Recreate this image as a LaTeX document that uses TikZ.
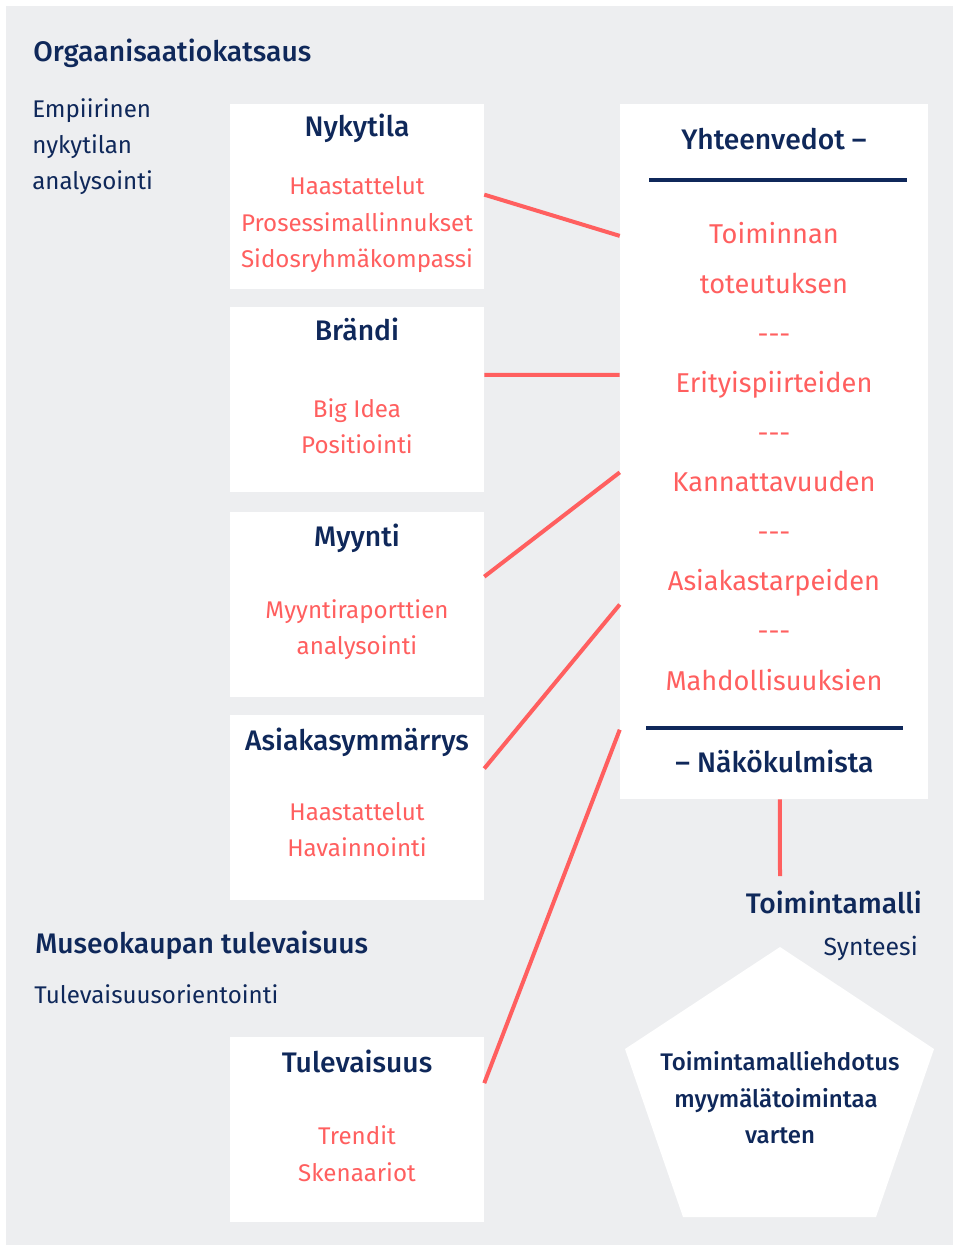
\documentclass[tikz,border=0pt]{standalone}
\usepackage{fontspec}
\setmainfont{Fira Sans}
\IfFontExistsTF{FiraSans-Medium}
  {\newfontfamily\headfont{FiraSans-Medium}}
  {\IfFontExistsTF{Fira Sans Medium}
    {\newfontfamily\headfont{Fira Sans Medium}}
    {\newcommand\headfont{\bfseries}}}
\usetikzlibrary{calc}
\definecolor{ink}{RGB}{15,40,90}
\definecolor{coral}{RGB}{255,95,95}
\definecolor{paper}{RGB}{237,238,240}
\tikzset{
  panel/.style={fill=white, draw=none, minimum width=190.5pt, minimum height=138.75pt, inner sep=0pt},
  head/.style={font=\headfont\fontsize{21.2}{26}\selectfont, text=ink, inner sep=0pt},
  item/.style={font=\fontsize{18.1}{22}\selectfont, text=coral, inner sep=0pt},
  note/.style={font=\fontsize{18.1}{22}\selectfont, text=ink, inner sep=0pt},
  sumitem/.style={font=\fontsize{20.4}{25}\selectfont, text=coral, inner sep=0pt},
  penttext/.style={font=\headfont\fontsize{18}{22}\selectfont, text=ink, inner sep=0pt},
  link/.style={draw=coral, line width=3pt},
  rule/.style={draw=ink, line width=3pt},
}
\begin{document}
\begin{tikzpicture}[x=0.75pt,y=-0.75pt]
\useasboundingbox (0,0) rectangle (953,1245);
\fill[white] (0,0) rectangle (953,1245);
\fill[paper] (6,6) rectangle (953,1245);

% section captions on the left
\node[head, anchor=base west] (title1) at (33,62) {Orgaanisaatiokatsaus};
\node[note, anchor=base west] (emp1) at (32,118) {Empiirinen};
\node[note, anchor=base west] (emp2) at (32,154) {nykytilan};
\node[note, anchor=base west] (emp3) at (32,190) {analysointi};
\node[head, anchor=base west] (title2) at (35,953) {Museokaupan tulevaisuus};
\node[note, anchor=base west] (fut) at (34,1003) {Tulevaisuusorientointi};

% input boxes
\node[panel] (nyk) at (357,196.5) {};
\node[panel] (bra) at (357,399.5) {};
\node[panel] (myy) at (357,604.5) {};
\node[panel] (asi) at (357,807.5) {};
\node[panel] (tul) at (357,1129.5) {};

\node[head, anchor=base] (nykh) at (357,137) {Nykytila};
\node[item, anchor=base] (nyk1) at (357,195) {Haastattelut};
\node[item, anchor=base] (nyk2) at (357,231) {Prosessimallinnukset};
\node[item, anchor=base] (nyk3) at (357,267) {Sidosryhmäkompassi};

\node[head, anchor=base] (brah) at (357,340) {Brändi};
\node[item, anchor=base] (bra1) at (357,417) {Big Idea};
\node[item, anchor=base] (bra2) at (357,453) {Positiointi};

\node[head, anchor=base] (myyh) at (357,546) {Myynti};
\node[item, anchor=base] (myy1) at (357,618) {Myyntiraporttien};
\node[item, anchor=base] (myy2) at (357,654) {analysointi};

\node[head, anchor=base] (asih) at (357,750) {Asiakasymmärrys};
\node[item, anchor=base] (asi1) at (357,820) {Haastattelut};
\node[item, anchor=base] (asi2) at (357,856) {Havainnointi};

\node[head, anchor=base] (tulh) at (357,1072) {Tulevaisuus};
\node[item, anchor=base] (tul1) at (357,1144) {Trendit};
\node[item, anchor=base] (tul2) at (357,1181) {Skenaariot};

% summary column
\node[fill=white, draw=none, inner sep=0pt, minimum width=231pt, minimum height=521.25pt] (sum) at (774,451.5) {};
\node[head, anchor=base] (sumh) at (774,150) {Yhteenvedot –};
\draw[rule] (649,180) -- (907,180);
\node[sumitem, anchor=base] (s1) at (774,243) {Toiminnan};
\node[sumitem, anchor=base] (s2) at (774,293) {toteutuksen};
\node[sumitem, anchor=base] (d1) at (774,343) {-{}-{}-};
\node[sumitem, anchor=base] (s3) at (774,392) {Erityispiirteiden};
\node[sumitem, anchor=base] (d2) at (774,442) {-{}-{}-};
\node[sumitem, anchor=base] (s4) at (774,491) {Kannattavuuden};
\node[sumitem, anchor=base] (d3) at (774,541) {-{}-{}-};
\node[sumitem, anchor=base] (s5) at (774,590) {Asiakastarpeiden};
\node[sumitem, anchor=base] (d4) at (774,640) {-{}-{}-};
\node[sumitem, anchor=base] (s6) at (774,690) {Mahdollisuuksien};
\draw[rule] (646,728) -- (903,728);
\node[head, anchor=base] (sumf) at (774.5,772) {– Näkökulmista};

% synthesis
\node[head, anchor=base east] (model) at (922,913) {Toimintamalli};
\node[note, anchor=base east, font=\fontsize{18.6}{22}\selectfont] (synth) at (918,955) {Synteesi};
\coordinate (synthend) at (780,876);

\fill[white] (780,947) -- (934,1049) -- (876,1217) -- (683,1217) -- (625,1049) -- cycle;
\node[penttext, anchor=base] (p1) at (780,1070) {Toimintamalliehdotus};
\node[penttext, anchor=base] (p2) at (776,1107) {myymälätoimintaa};
\node[penttext, anchor=base] (p3) at (780,1143) {varten};

% connectors
\draw[link] ($(nyk.north east)!0.49!(nyk.south east)$) -- ($(sum.north west)!0.19!(sum.south west)$);
\draw[link] ($(bra.north east)!0.3676!(bra.south east)$) -- ($(sum.north west)!0.39!(sum.south west)$);
\draw[link] ($(myy.north east)!0.35!(myy.south east)$) -- ($(sum.north west)!0.53!(sum.south west)$);
\draw[link] ($(asi.north east)!0.29!(asi.south east)$) -- ($(sum.north west)!0.72!(sum.south west)$);
\draw[link] ($(tul.north east)!0.25!(tul.south east)$) -- ($(sum.north west)!0.90!(sum.south west)$);
\draw[link] ($(sum.south west)!0.519!(sum.south east)$) -- (synthend);
\end{tikzpicture}
\end{document}
